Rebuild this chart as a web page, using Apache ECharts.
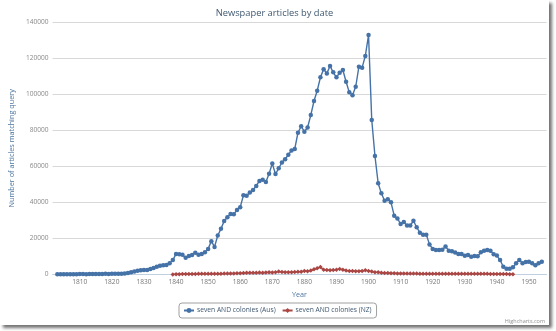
<!DOCTYPE html>
<html>
<head>
<meta charset="utf-8">
<title>Newspaper articles by date</title>
<script src="https://cdn.jsdelivr.net/npm/echarts@6/dist/echarts.min.js"></script>
<style>
  html, body { margin: 0; padding: 0; background: #ffffff; }
  #chart {
    position: absolute; left: 0; top: 0;
    width: 549px; height: 325px;
    background: #ffffff;
    box-shadow: 3px 3px 3px rgba(0, 0, 0, 0.55);
  }
</style>
</head>
<body>
<div id="chart"></div>
<script>
// Yearly counts of articles matching "seven AND colonies"
const ausName = 'seven AND colonies (Aus)';
const ausStartYear = 1803;
const ausValues = [
  100, 150, 150, 200, 150, 200, 200,                                      // 1803-1809
  250, 250, 200, 250, 300, 250, 300, 300, 350, 300,                       // 1810s
  350, 400, 350, 400, 600, 900, 1300, 1700, 2100, 2400,                   // 1820s
  2500, 2500, 3000, 3600, 4300, 4900, 5100, 5300, 6200, 8000,             // 1830s
  11400, 11200, 11000, 9300, 10200, 10800, 12100, 11000, 11300, 12300,    // 1840s
  14200, 18500, 15300, 21600, 25300, 29700, 31700, 33600, 33400, 35800,   // 1850s
  37300, 43900, 43700, 45400, 46900, 49100, 51900, 52500, 51300, 55900,   // 1860s
  61500, 55700, 58900, 62100, 63900, 66400, 68800, 69600, 78600, 82200,   // 1870s
  79200, 81500, 88400, 96200, 101900, 109300, 113800, 111500, 115600, 112100, // 1880s
  109300, 111900, 113400, 106900, 101000, 99400, 104100, 115200, 114700, 121200, // 1890s
  132800, 85700, 65700, 50600, 45000, 40900, 41700, 40000, 32600, 31100,  // 1900s
  28000, 29100, 27100, 27100, 29800, 26200, 23200, 22100, 22100, 16700,   // 1910s
  14200, 13600, 13600, 13700, 15500, 13200, 12900, 12200, 11400, 11300,   // 1920s
  10400, 10800, 9900, 10300, 10100, 12300, 13200, 13600, 13200, 11200,    // 1930s
  10500, 8000, 4300, 3200, 3200, 4000, 6200, 8000, 6200, 6900,            // 1940s
  7100, 6200, 5100, 6200, 7100                                            // 1950-1954
];

const nzName = 'seven AND colonies (NZ)';
const nzStartYear = 1839;
const nzValues = [
  50, 150, 200, 250, 250, 300, 300, 300, 350, 350, 350,                   // 1839-1849
  400, 400, 400, 450, 450, 500, 500, 550, 600, 650,                       // 1850s
  700, 800, 950, 1000, 950, 1000, 1050, 1000, 1100, 1200,                 // 1860s
  1150, 1250, 1700, 1400, 1300, 1200, 1300, 1350, 1500, 1500,             // 1870s
  1900, 1800, 2200, 2900, 3400, 4100, 2600, 2500, 2300, 2500,             // 1880s
  2700, 3100, 2600, 2200, 2000, 1900, 1800, 1800, 1900, 2400,             // 1890s
  2000, 1600, 1300, 1200, 1000, 900, 800, 700, 650, 600,                  // 1900s
  550, 550, 500, 500, 500, 500, 450, 450, 450, 450,                       // 1910s
  450, 450, 400, 400, 400, 400, 400, 400, 400, 400,                       // 1920s
  350, 350, 350, 350, 350, 350, 350, 350, 300, 300,                       // 1930s
  300, 250, 250, 250, 200, 200                                            // 1940-1945
];

// Axis settings
const yTicks = { min: 0, max: 140000, step: 20000 };
const xRange = { min: 1801.5, max: 1955.5, step: 10 };

function toPairs(start, values) {
  return values.map((v, i) => [start + i, v]);
}

const FONT = '"Open Sans", "DejaVu Sans", sans-serif';
const chart = echarts.init(document.getElementById('chart'), null, { renderer: 'canvas' });

chart.setOption({
  animation: false,
  backgroundColor: '#ffffff',
  textStyle: { fontFamily: FONT },
  title: {
    text: 'Newspaper articles by date',
    left: 'center',
    top: 4,
    textStyle: { fontFamily: FONT, fontSize: 9.3, fontWeight: 'normal', color: '#3E576F' }
  },
  grid: { left: 47, right: 2.4, top: 22, bottom: 50.5, containLabel: false },
  xAxis: {
    type: 'value',
    min: xRange.min,
    max: xRange.max,
    minInterval: xRange.step,
    maxInterval: xRange.step,
    splitNumber: 15,
    name: 'Year',
    nameLocation: 'middle',
    nameGap: 17,
    nameTextStyle: { fontFamily: FONT, fontSize: 7.2, color: '#4d759e' },
    axisLine: { show: true, lineStyle: { color: '#C0D0E0', width: 1 } },
    axisTick: { show: false },
    splitLine: { show: false },
    axisLabel: {
      showMinLabel: false,
      showMaxLabel: false,
      margin: 4,
      fontFamily: FONT,
      fontSize: 6.6,
      color: '#777777',
      formatter: v => String(Math.round(v))
    }
  },
  yAxis: {
    type: 'value',
    min: yTicks.min,
    max: yTicks.max,
    interval: yTicks.step,
    name: 'Number of articles matching query',
    nameLocation: 'middle',
    nameGap: 33,
    nameRotate: 90,
    nameTextStyle: { fontFamily: FONT, fontSize: 7.3, color: '#4d759e' },
    axisLine: { show: false },
    axisTick: { show: false },
    splitLine: { lineStyle: { color: '#D8D8D8', width: 1 } },
    axisLabel: {
      margin: 4,
      fontFamily: FONT,
      fontSize: 6.6,
      color: '#8a8a8a',
      formatter: v => String(v)
    }
  },
  legend: {
    left: 179,
    top: 303,
    orient: 'horizontal',
    padding: [4, 5, 4, 4],
    itemGap: 6,
    itemWidth: 10,
    itemHeight: 6,
    borderColor: '#A0A0A0',
    borderWidth: 1,
    borderRadius: 3,
    textStyle: { fontFamily: FONT, fontSize: 6.7, color: '#3E576F', padding: [0, 0, 0, -2] },
    data: [ausName, nzName]
  },
  series: [
    {
      name: ausName,
      type: 'line',
      data: toPairs(ausStartYear, ausValues),
      symbol: 'circle',
      symbolSize: 4.5,
      showSymbol: true,
      lineStyle: { color: '#4572A7', width: 1.4 },
      itemStyle: { color: '#4572A7' },
      z: 3
    },
    {
      name: nzName,
      type: 'line',
      data: toPairs(nzStartYear, nzValues),
      symbol: 'diamond',
      symbolSize: 4.5,
      showSymbol: true,
      lineStyle: { color: '#AA4643', width: 1.4 },
      itemStyle: { color: '#AA4643' },
      z: 2
    }
  ],
  graphic: [
    {
      type: 'text',
      right: 4,
      bottom: 1,
      style: { text: 'Highcharts.com', fontFamily: FONT, fontSize: 5.5, fill: '#909090' }
    }
  ]
});
</script>
</body>
</html>
